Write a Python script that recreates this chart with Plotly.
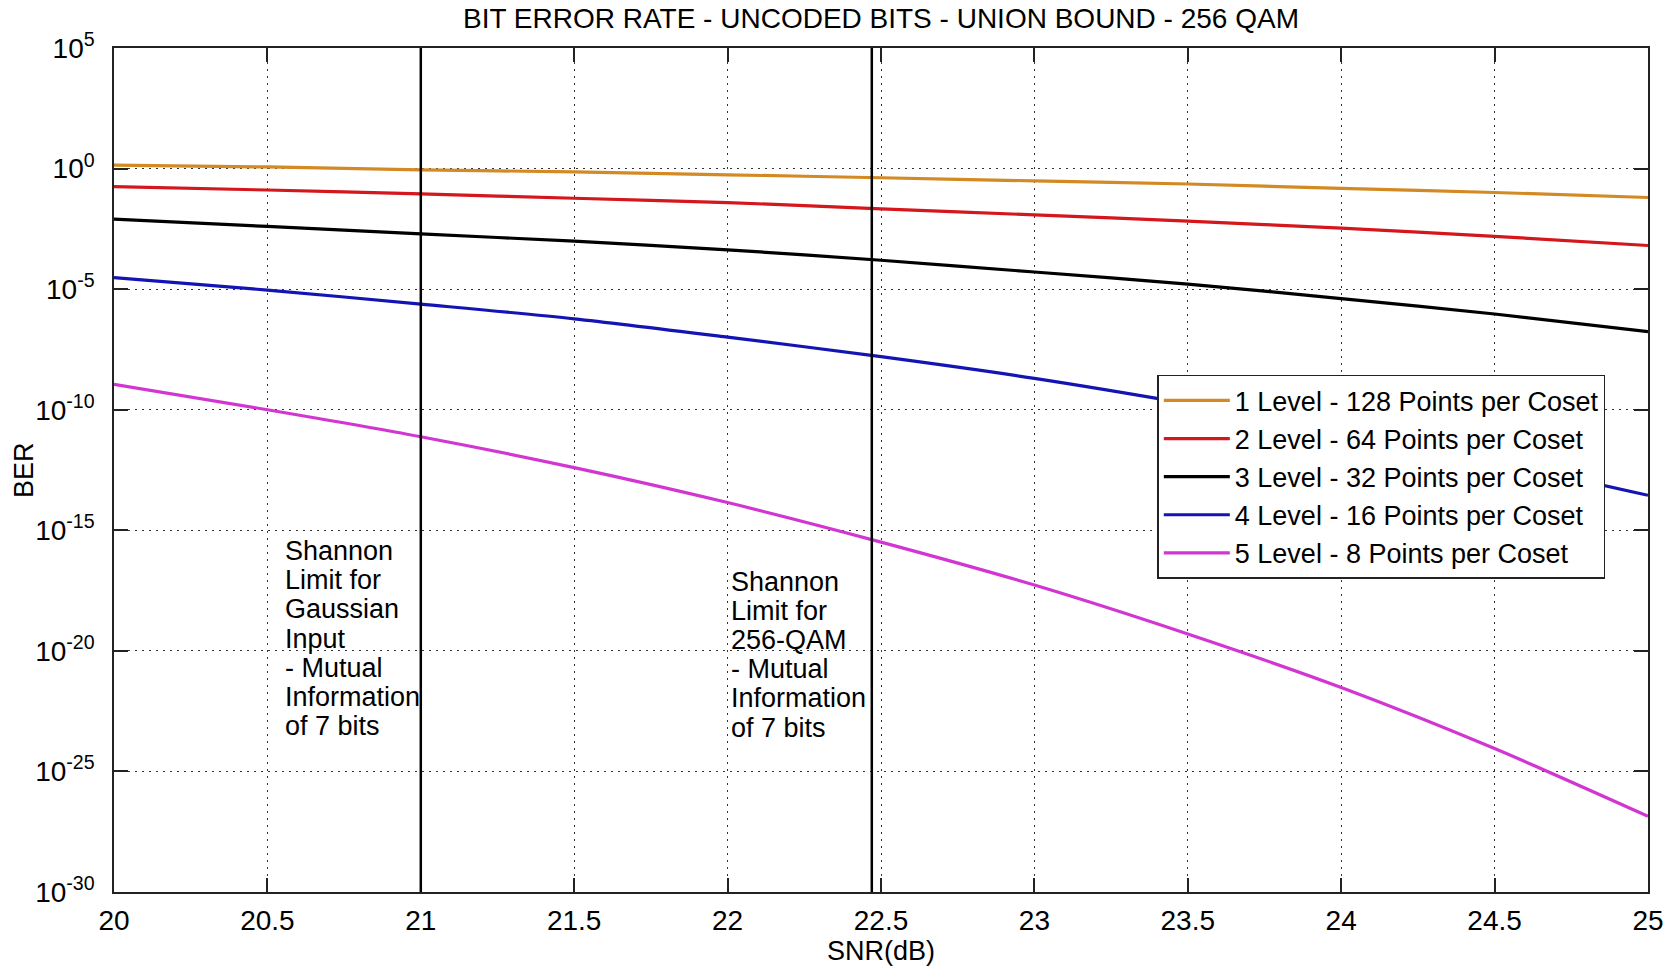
import plotly.graph_objects as go

# SNR grid (dB)
snr_db = [20.0, 20.5, 21.0, 21.5, 22.0, 22.5, 23.0, 23.5, 24.0, 24.5, 25.0]

# Union-bound BER of the uncoded bits for each partition level
ber_level1 = [1.38, 1.17, 0.891, 0.724, 0.550, 0.417, 0.309, 0.229, 0.151, 0.102, 0.0631]
ber_level2 = [0.178, 0.129, 0.0891, 0.0589, 0.0389, 0.0214, 0.0120, 6.61e-3, 3.39e-3, 1.55e-3, 6.46e-4]
ber_level3 = [7.94e-3, 3.98e-3, 1.95e-3, 9.77e-4, 4.27e-4, 1.58e-4, 5.13e-5, 1.62e-5, 4.07e-6, 9.33e-7, 1.74e-7]
ber_level4 = [3.02e-5, 9.12e-6, 2.40e-6, 5.89e-7, 1.02e-7, 1.58e-8, 2.00e-9, 1.78e-10, 1.26e-11, 7.08e-13, 2.82e-14]
ber_level5 = [1.12e-9, 1.00e-10, 7.59e-12, 3.98e-13, 1.41e-14, 3.24e-16, 5.37e-18, 5.01e-20, 3.02e-22, 8.91e-25, 1.38e-27]

series_names = [
    "1 Level - 128 Points per Coset",
    "2 Level - 64 Points per Coset",
    "3 Level - 32 Points per Coset",
    "4 Level - 16 Points per Coset",
    "5 Level - 8 Points per Coset",
]
series_colors = ["#D38A24", "#D4171C", "#000000", "#1414B4", "#D236D2"]

# Shannon limits (dB)
shannon_limits = [21.0, 22.47]
shannon_labels = [
    ["Shannon", "Limit for", "Gaussian", "Input", "- Mutual", "Information", "of 7 bits"],
    ["Shannon", "Limit for", "256-QAM", "- Mutual", "Information", "of 7 bits"],
]
label_x = [20.555, 22.007]
label_top_px = [556, 587]

x_ticks = [20, 20.5, 21, 21.5, 22, 22.5, 23, 23.5, 24, 24.5, 25]
x_ticktext = ["20", "20.5", "21", "21.5", "22", "22.5", "23", "23.5", "24", "24.5", "25"]
y_exponents = [5, 0, -5, -10, -15, -20, -25, -30]

FONT = "Liberation Sans, Arial, Helvetica, sans-serif"
W, H = 1676, 970
M_L, M_R, M_T, M_B = 114, 27, 48, 70
plot_w = W - M_L - M_R
plot_h = H - M_T - M_B

fig = go.Figure()
for i, (name, ys, col) in enumerate(zip(series_names,
                                         [ber_level1, ber_level2, ber_level3, ber_level4, ber_level5],
                                         series_colors)):
    fig.add_trace(go.Scatter(
        x=snr_db, y=ys, mode="lines", name=name,
        line=dict(color=col, width=3.2, shape="spline", smoothing=0.8),
        legendgroup=f"g{i}",
    ))

for xv in shannon_limits:
    fig.add_shape(type="line", xref="x", yref="paper", x0=xv, x1=xv, y0=0, y1=1,
                  line=dict(color="black", width=2.5), layer="above")

line_step = 29.4
for lines, xl, top in zip(shannon_labels, label_x, label_top_px):
    for k, txt in enumerate(lines):
        ypx = top + k * line_step
        fig.add_annotation(
            x=xl, xref="x", y=(H - M_B - ypx) / plot_h, yref="paper",
            text=txt, showarrow=False, xanchor="left", yanchor="middle",
            font=dict(family=FONT, size=27, color="black"), borderpad=0,
        )

# y-axis title placed as rotated text left of the tick labels
fig.add_annotation(
    x=(24 - M_L) / plot_w, xref="paper", y=0.5, yref="paper",
    text="BER", textangle=-90, showarrow=False, xanchor="center", yanchor="middle",
    font=dict(family=FONT, size=27, color="black"),
)

axis_common = dict(
    showline=True, linecolor="#222", linewidth=1.5, mirror="ticks",
    ticks="inside", ticklen=14, tickwidth=1.5, tickcolor="#222",
    showgrid=True, gridcolor="#333", gridwidth=1, griddash="2px,5px",
    zeroline=False, tickfont=dict(family=FONT, size=28, color="black"),
)

fig.update_xaxes(
    range=[20, 25], tickvals=x_ticks, ticktext=x_ticktext,
    title=dict(text="SNR(dB)", font=dict(family=FONT, size=27, color="black"), standoff=3),
    ticklabelstandoff=3, **axis_common,
)
fig.update_yaxes(
    type="log", range=[-30, 5],
    tickvals=[10.0 ** e for e in y_exponents],
    ticktext=[f"10<sup>{e}</sup>" for e in y_exponents],
    ticklabelstandoff=12, **axis_common,
)

fig.update_layout(
    width=W, height=H,
    margin=dict(l=M_L, r=M_R, t=M_T, b=M_B),
    paper_bgcolor="white", plot_bgcolor="white",
    title=dict(text="BIT ERROR RATE - UNCODED BITS - UNION BOUND - 256 QAM",
               x=0.5, xref="paper", y=1 - 18 / H, yref="container", yanchor="middle",
               font=dict(family=FONT, size=28, color="black")),
    legend=dict(
        x=(1158 - M_L) / plot_w, y=(H - M_B - 378) / plot_h,
        xanchor="left", yanchor="top",
        bgcolor="white", bordercolor="#222", borderwidth=1.5,
        font=dict(family=FONT, size=27, color="black"),
        itemwidth=66, tracegroupgap=0,
    ),
    showlegend=True,
)

fig.write_html("out.html")
